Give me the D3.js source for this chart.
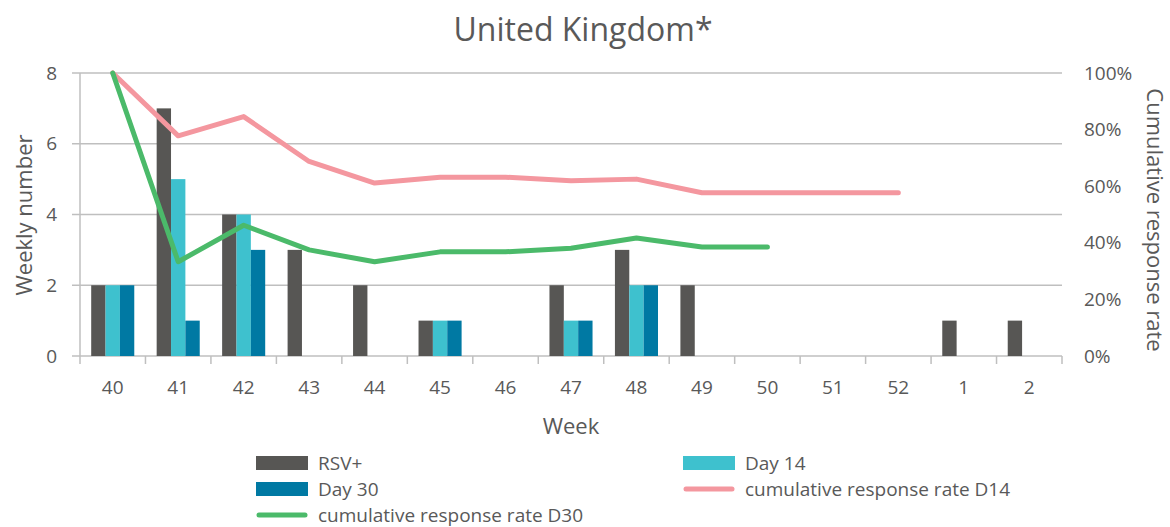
<!DOCTYPE html>
<html><head><meta charset="utf-8">
<script src="https://cdn.jsdelivr.net/npm/d3@7"></script>
<style>
body{margin:0;background:#fff;}
text{font-family:"Open Sans",Lato,sans-serif;fill:#595959;}
</style></head>
<body><svg id="c" width="1170" height="527"></svg>
<script>
const weeks = ["40","41","42","43","44","45","46","47","48","49","50","51","52","1","2"];
const rsv   = [2,7,4,3,2,1,0,2,3,2,0,0,0,1,1];
const day14 = [2,5,4,0,0,1,0,1,2,0,0,0,0,0,0];
const day30 = [2,1,3,0,0,1,0,1,2,0,0,0,0,0,0];
const rateD14 = [1.00,0.778,0.846,0.6875,0.611,0.632,0.632,0.619,0.625,0.577,0.577,0.577,0.577,null,null];
const rateD30 = [1.00,0.333,0.462,0.375,0.333,0.368,0.368,0.381,0.417,0.385,0.385,null,null,null,null];
const leftTicks = [0,2,4,6,8];
const rightTicks = [0,0.2,0.4,0.6,0.8,1.0];

const svg = d3.select("#c");
const L=80, R=1062, T=73, B=356;
const x = d3.scaleBand().domain(weeks).range([L,R]);
const bw = x.bandwidth(), gw = bw/1.52;
const seriesNames = ["RSV+","Day 14","Day 30"];
const colors = {"RSV+":"#575654","Day 14":"#3EC1CE","Day 30":"#0079A3"};
const x1 = d3.scaleBand().domain(seriesNames).range([(bw-gw)/2,(bw+gw)/2]);
const yL = d3.scaleLinear().domain([0,8]).range([B,T]);
const yR = d3.scaleLinear().domain([0,1]).range([B,T]);

// gridlines
svg.append("g").selectAll("line").data(leftTicks).join("line")
  .attr("x1",L-8).attr("x2",R).attr("y1",d=>yL(d)).attr("y2",d=>yL(d))
  .attr("stroke","#BFBFBF").attr("stroke-width",1.5);
// left axis line
svg.append("line").attr("x1",L).attr("x2",L).attr("y1",T).attr("y2",B).attr("stroke","#BFBFBF").attr("stroke-width",1.5);
// x ticks at band edges
const edges = weeks.map(w=>x(w)).concat([R]);
svg.append("g").selectAll("line").data(edges).join("line")
  .attr("x1",d=>d).attr("x2",d=>d).attr("y1",B).attr("y2",B+8)
  .attr("stroke","#BFBFBF").attr("stroke-width",1.5);

// bars
const data = weeks.map((w,i)=>({w, vals:[["RSV+",rsv[i]],["Day 14",day14[i]],["Day 30",day30[i]]]}));
const g = svg.append("g").selectAll("g").data(data).join("g").attr("transform",d=>`translate(${x(d.w)},0)`);
g.selectAll("rect").data(d=>d.vals.filter(v=>v[1]>0)).join("rect")
  .attr("x",d=>x1(d[0])).attr("width",x1.bandwidth())
  .attr("y",d=>yL(d[1])).attr("height",d=>B-yL(d[1]))
  .attr("fill",d=>colors[d[0]]);

// lines
const line = d3.line().defined(d=>d[1]!=null).x(d=>x(d[0])+bw/2).y(d=>yR(d[1]));
svg.append("path").datum(weeks.map((w,i)=>[w,rateD14[i]])).attr("d",line)
  .attr("fill","none").attr("stroke","#F4979F").attr("stroke-width",5).attr("stroke-linecap","round").attr("stroke-linejoin","round");
svg.append("path").datum(weeks.map((w,i)=>[w,rateD30[i]])).attr("d",line)
  .attr("fill","none").attr("stroke","#4BBA6A").attr("stroke-width",5).attr("stroke-linecap","round").attr("stroke-linejoin","round");

// tick labels
svg.append("g").selectAll("text").data(leftTicks).join("text")
  .attr("x",57).attr("y",d=>yL(d)).attr("dy","0.35em").attr("text-anchor","end")
  .style("font-size","19px").text(d=>d);
svg.append("g").selectAll("text").data(rightTicks).join("text")
  .attr("x",1084).attr("y",d=>yR(d)).attr("dy","0.35em").attr("text-anchor","start")
  .style("font-size","19px").text(d=>d3.format(".0%")(d));
svg.append("g").selectAll("text").data(weeks).join("text")
  .attr("x",d=>x(d)+bw/2).attr("y",387).attr("dy","0.35em").attr("text-anchor","middle")
  .style("font-size","19px").text(d=>d);

// titles
svg.append("text").attr("x",583).attr("y",30).attr("dy","0.35em").attr("text-anchor","middle")
  .style("font-size","32px").text("United Kingdom*");
svg.append("text").attr("x",571).attr("y",426).attr("dy","0.35em").attr("text-anchor","middle")
  .style("font-size","22px").text("Week");
svg.append("text").attr("transform","translate(24,215) rotate(-90)").attr("dy","0.35em").attr("text-anchor","middle")
  .style("font-size","22px").text("Weekly number");
svg.append("text").attr("transform","translate(1155,220) rotate(90)").attr("dy","0.35em").attr("text-anchor","middle")
  .style("font-size","22px").text("Cumulative response rate");

// legend
const legend = [
  {name:"RSV+",type:"rect",color:colors["RSV+"],x:256,y:463},
  {name:"Day 14",type:"rect",color:colors["Day 14"],x:683,y:463},
  {name:"Day 30",type:"rect",color:colors["Day 30"],x:256,y:489},
  {name:"cumulative response rate D14",type:"line",color:"#F4979F",x:683,y:489},
  {name:"cumulative response rate D30",type:"line",color:"#4BBA6A",x:256,y:515}
];
const lg = svg.append("g").selectAll("g").data(legend).join("g").attr("transform",d=>`translate(${d.x},${d.y})`);
lg.filter(d=>d.type==="rect").append("rect").attr("x",0).attr("y",-7).attr("width",52).attr("height",14).attr("fill",d=>d.color);
lg.filter(d=>d.type==="line").append("line").attr("x1",3).attr("x2",49).attr("y1",0).attr("y2",0)
  .attr("stroke",d=>d.color).attr("stroke-width",5).attr("stroke-linecap","round");
lg.append("text").attr("x",62).attr("y",0).attr("dy","0.35em").style("font-size","19px").text(d=>d.name);
</script></body></html>
